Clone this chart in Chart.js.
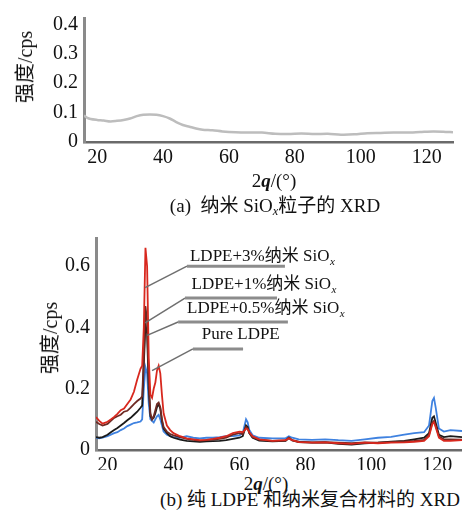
<!DOCTYPE html>
<html>
<head>
<meta charset="utf-8">
<script src="https://cdn.jsdelivr.net/npm/chart.js@4.4.1/dist/chart.umd.min.js"></script>
<style>
  body { margin: 0; background: #fff; width: 462px; height: 515px; overflow: hidden; position: relative; }
  canvas { position: absolute; left: 0; }
  .txt { position: absolute; white-space: nowrap; font-family: "Liberation Serif", "Times New Roman", "Noto Sans CJK SC", serif; font-size: 19px; color: #111; transform: translate(-50%, -50%); line-height: 1; }
  .ytitle { font-size: 20px; transform: translate(-50%, -50%) rotate(-90deg); }
  sub { font-size: 0.65em; vertical-align: -0.3em; line-height: 0; }
</style>
</head>
<body>
<canvas id="chartA" width="462" height="172" style="top:0"></canvas>
<canvas id="chartB" width="462" height="250" style="top:220px"></canvas>

<div class="txt ytitle" style="left:25px; top:67px">强度/cps</div>
<div class="txt" style="left:274px; top:180px">2<b><i>q</i></b>/(°)</div>
<div class="txt" style="left:275px; top:205px">(a)&nbsp; 纳米 SiO<sub><i>x</i></sub>粒子的 XRD</div>

<div class="txt ytitle" style="left:50px; top:338px">强度/cps</div>
<div class="txt" style="left:266px; top:483px">2<b><i>q</i></b>/(°)</div>
<div class="txt" style="left:310px; top:499px">(b) 纯 LDPE 和纳米复合材料的 XRD</div>

<script>
// (a) nano SiOx
const anglesA = [16, 17, 18, 20, 22, 24, 26, 28, 30, 32, 34, 36, 38, 40, 42, 44, 46, 48, 50, 52,
  55, 58, 62, 66, 70, 74, 78, 82, 86, 90, 94, 98, 102, 106, 110, 114, 118, 122, 125, 128];
const siox = [0.090, 0.082, 0.078, 0.075, 0.073, 0.070, 0.072, 0.075, 0.080, 0.088, 0.093, 0.094,
  0.093, 0.088, 0.080, 0.068, 0.058, 0.052, 0.046, 0.042, 0.040, 0.036, 0.033, 0.032, 0.032,
  0.028, 0.027, 0.029, 0.027, 0.028, 0.025, 0.026, 0.030, 0.031, 0.032, 0.032, 0.034, 0.036,
  0.035, 0.033];
const yTicksA = [0, 0.1, 0.2, 0.3, 0.4];

// (b) LDPE and composites
const anglesB = [16.5, 17.5, 18.5, 20, 21, 22, 23, 24, 25, 26, 27, 28, 29, 30, 30.5, 31, 31.5, 32,
  32.5, 33, 33.5, 34, 34.5, 35, 35.5, 36, 36.5, 37, 38, 39, 40, 42, 44, 46, 48, 50, 52, 54, 56,
  58, 60, 61, 62, 62.5, 63, 64, 66, 70, 74, 75, 76, 78, 82, 86, 90, 94, 98, 102, 106, 110, 113,
  116, 117.5, 118.5, 119, 119.5, 120.5, 122, 124, 127.5];
const ldpe3 = [0.107, 0.095, 0.086, 0.092, 0.100, 0.108, 0.118, 0.130, 0.135, 0.150, 0.165, 0.190,
  0.230, 0.265, 0.275, 0.40, 0.66, 0.60, 0.30, 0.18, 0.17, 0.20, 0.22, 0.26, 0.275, 0.25, 0.18,
  0.12, 0.08, 0.065, 0.055, 0.045, 0.038, 0.035, 0.032, 0.033, 0.036, 0.040, 0.045, 0.055, 0.060,
  0.058, 0.070, 0.068, 0.058, 0.045, 0.035, 0.030, 0.032, 0.038, 0.032, 0.026, 0.024, 0.025,
  0.022, 0.020, 0.024, 0.022, 0.024, 0.025, 0.027, 0.030, 0.045, 0.085, 0.090, 0.075, 0.040,
  0.030, 0.030, 0.032];
const ldpe1 = [0.092, 0.085, 0.080, 0.085, 0.095, 0.105, 0.110, 0.115, 0.125, 0.128, 0.138, 0.150,
  0.160, 0.168, 0.175, 0.30, 0.47, 0.42, 0.22, 0.12, 0.10, 0.11, 0.13, 0.15, 0.155, 0.14, 0.10,
  0.075, 0.060, 0.052, 0.048, 0.042, 0.036, 0.033, 0.030, 0.032, 0.034, 0.036, 0.040, 0.050,
  0.055, 0.052, 0.075, 0.070, 0.055, 0.042, 0.034, 0.030, 0.031, 0.040, 0.032, 0.027, 0.025,
  0.026, 0.024, 0.022, 0.025, 0.024, 0.026, 0.028, 0.030, 0.033, 0.050, 0.090, 0.095, 0.080,
  0.045, 0.035, 0.035, 0.034];
const ldpe05 = [0.042, 0.040, 0.042, 0.050, 0.058, 0.065, 0.072, 0.080, 0.088, 0.097, 0.105, 0.115,
  0.125, 0.138, 0.145, 0.28, 0.41, 0.38, 0.20, 0.11, 0.10, 0.105, 0.12, 0.14, 0.15, 0.135, 0.095,
  0.07, 0.055, 0.045, 0.040, 0.034, 0.030, 0.028, 0.027, 0.028, 0.029, 0.030, 0.032, 0.036,
  0.040, 0.045, 0.080, 0.075, 0.055, 0.040, 0.031, 0.028, 0.030, 0.040, 0.031, 0.026, 0.024,
  0.025, 0.020, 0.018, 0.022, 0.024, 0.027, 0.030, 0.035, 0.040, 0.055, 0.105, 0.110, 0.090,
  0.050, 0.042, 0.045, 0.042];
const pureLdpe = [0.040, 0.038, 0.040, 0.045, 0.050, 0.055, 0.058, 0.065, 0.070, 0.078, 0.083,
  0.088, 0.090, 0.093, 0.10, 0.20, 0.27, 0.25, 0.15, 0.10, 0.095, 0.09, 0.10, 0.11, 0.115, 0.10,
  0.08, 0.06, 0.05, 0.045, 0.042, 0.040, 0.045, 0.040, 0.038, 0.040, 0.040, 0.042, 0.045, 0.045,
  0.048, 0.055, 0.100, 0.090, 0.065, 0.048, 0.040, 0.038, 0.038, 0.045, 0.040, 0.035, 0.033,
  0.035, 0.032, 0.030, 0.035, 0.040, 0.043, 0.050, 0.055, 0.058, 0.080, 0.160, 0.170, 0.140,
  0.070, 0.060, 0.065, 0.062];
const yTicksB = [0, 0.2, 0.4, 0.6];
const xTicks = [20, 40, 60, 80, 100, 120];

// leader-line labels in chart (b), in data units
const annText = ['LDPE+3%纳米 SiO', 'LDPE+1%纳米 SiO', 'LDPE+0.5%纳米 SiO', 'Pure LDPE'];
const annSub = ['x', 'x', 'x', ''];
const annTextX = [45.0, 45.5, 44.1, 48.6];
const annTextY = [0.63, 0.539, 0.461, 0.377];
const annLineY = [0.60, 0.496, 0.418, 0.330];
const annLineX0 = [44.1, 43.5, 41.4, 45.9];
const annLineX1 = [73.8, 71.4, 74.7, 61.1];
const annTipX = [31.4, 31.4, 32.0, 33.5];
const annTipY = [0.53, 0.415, 0.374, 0.259];

const serif = '"Liberation Serif", "Times New Roman", serif';
const cjkSerif = '"Liberation Serif", "Times New Roman", "Noto Sans CJK SC", serif';
const toPts = (xs, ys) => xs.map((x, i) => ({ x: x, y: ys[i] }));
const fmtY = v => (v === 0 ? '0' : v.toFixed(1));

function axes(xMin, xMax, yMax, yTicks, yWidth, xHeight) {
  return {
    x: {
      type: 'linear', min: xMin, max: xMax,
      afterBuildTicks: s => { s.ticks = xTicks.map(v => ({ value: v })); },
      afterFit: s => { s.height = xHeight; },
      grid: { display: false, drawTicks: false },
      border: { color: '#6a6a6a', width: 2.5 },
      ticks: { color: '#111', padding: 4, maxRotation: 0, font: { family: serif, size: 20 } }
    },
    y: {
      min: 0, max: yMax,
      afterBuildTicks: s => { s.ticks = yTicks.map(v => ({ value: v })); },
      afterFit: s => { s.width = yWidth; },
      grid: { display: false, drawTicks: false },
      border: { color: '#8a8a8a', width: 3 },
      ticks: { color: '#111', padding: 6, callback: fmtY, font: { family: serif, size: 20 } }
    }
  };
}

const common = {
  responsive: false,
  animation: false,
  plugins: { legend: { display: false }, tooltip: { enabled: false } },
  elements: { point: { radius: 0 } }
};

new Chart(document.getElementById('chartA').getContext('2d'), {
  type: 'line',
  data: {
    datasets: [{
      data: toPts(anglesA, siox),
      borderColor: '#bdbdbd', borderWidth: 2.5, tension: 0.3, fill: false
    }]
  },
  options: Object.assign({}, common, {
    layout: { padding: { top: 8, right: 9, left: 0, bottom: 0 } },
    scales: axes(16, 128, 0.422, yTicksA, 84, 30)
  })
});

const leaderPlugin = {
  id: 'leaders',
  afterDatasetsDraw(chart) {
    const { ctx, scales: { x, y } } = chart;
    ctx.save();
    annText.forEach((t, i) => {
      const x0 = x.getPixelForValue(annLineX0[i]);
      const ly = y.getPixelForValue(annLineY[i]);
      ctx.strokeStyle = '#6f6f6f';
      ctx.lineWidth = 1.5;
      ctx.beginPath();
      ctx.moveTo(x.getPixelForValue(annTipX[i]), y.getPixelForValue(annTipY[i]));
      ctx.lineTo(x0, ly);
      ctx.stroke();
      ctx.strokeStyle = '#8c8c8c';
      ctx.lineWidth = 3;
      ctx.beginPath();
      ctx.moveTo(x0, ly);
      ctx.lineTo(x.getPixelForValue(annLineX1[i]), ly);
      ctx.stroke();

      const tx = x.getPixelForValue(annTextX[i]);
      const ty = y.getPixelForValue(annTextY[i]);
      ctx.fillStyle = '#111';
      ctx.textAlign = 'left';
      ctx.textBaseline = 'middle';
      ctx.font = '17px ' + cjkSerif;
      ctx.fillText(t, tx, ty);
      if (annSub[i]) {
        const w = ctx.measureText(t).width;
        ctx.font = 'italic 11px ' + serif;
        ctx.fillText(annSub[i], tx + w + 0.5, ty + 5);
      }
    });
    ctx.restore();
  }
};

new Chart(document.getElementById('chartB').getContext('2d'), {
  type: 'line',
  data: {
    datasets: [
      { label: 'LDPE+3%', data: toPts(anglesB, ldpe3), borderColor: '#d8281e', borderWidth: 1.8 },
      { label: 'LDPE+1%', data: toPts(anglesB, ldpe1), borderColor: '#6e2a24', borderWidth: 1.8 },
      { label: 'LDPE+0.5%', data: toPts(anglesB, ldpe05), borderColor: '#1a1a1a', borderWidth: 1.8 },
      { label: 'Pure LDPE', data: toPts(anglesB, pureLdpe), borderColor: '#3f82e0', borderWidth: 1.8 }
    ]
  },
  options: Object.assign({}, common, {
    layout: { padding: { top: 8, right: 0, left: 0, bottom: 0 } },
    scales: axes(16.5, 127.5, 0.692, yTicksB, 96, 20)
  }),
  plugins: [leaderPlugin]
});
</script>
</body>
</html>
